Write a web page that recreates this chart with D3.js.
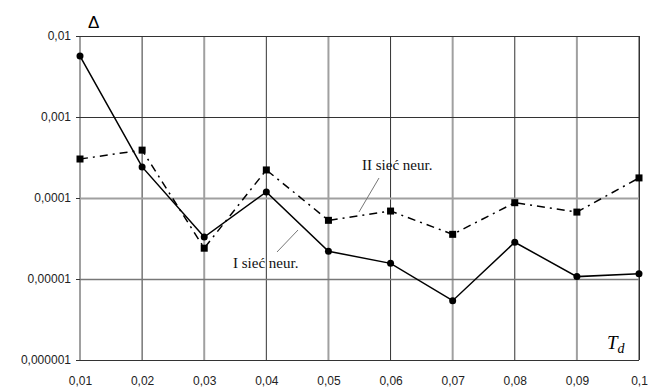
<!DOCTYPE html>
<html>
<head>
<meta charset="utf-8">
<script src="https://cdn.jsdelivr.net/npm/d3@7"></script>
<style>
  body { margin: 0; background: #fff; }
  svg { display: block; }
  .tick text { font-family: "Liberation Sans", Arial, sans-serif; font-size: 12px; fill: #222; }
  .lbl { font-family: "Liberation Serif", "Times New Roman", serif; font-size: 15px; fill: #111; }
</style>
</head>
<body>
<svg width="650" height="388"></svg>
<script>
// data
const td = [0.01, 0.02, 0.03, 0.04, 0.05, 0.06, 0.07, 0.08, 0.09, 0.1];
const net1 = [0.00566, 0.000242, 0.000033, 0.000119, 0.000022, 0.0000156, 0.0000054, 0.0000284, 0.0000107, 0.0000116];
const net2 = [0.000303, 0.00039, 0.000024, 0.000222, 0.000053, 0.000069, 0.0000356, 0.0000875, 0.000067, 0.000177];
const yTicks = [0.000001, 0.00001, 0.0001, 0.001, 0.01];

const svg = d3.select("svg");
const plotL = 80, plotR = 639, plotT = 36, plotB = 360;

const x = d3.scaleLinear().domain([0.01, 0.1]).range([plotL, plotR]);
const y = d3.scaleLog().domain([0.000001, 0.01]).range([plotB, plotT]);

const comma = d => String(d).replace(".", ",");

// vertical grid, alternating gray / dark
svg.append("g").selectAll("line")
  .data(td)
  .enter().append("line")
  .attr("x1", d => x(d)).attr("x2", d => x(d))
  .attr("y1", plotT).attr("y2", plotB)
  .attr("stroke", (d, i) => i % 2 === 0 ? "#a0a0a0" : "#333")
  .attr("stroke-width", (d, i) => i % 2 === 0 ? 2 : 1);

// horizontal grid
const hStyle = { 0.000001: ["#333", 1], 0.00001: ["#777", 1.5], 0.0001: ["#a0a0a0", 2], 0.001: ["#333", 1], 0.01: ["#333", 1] };
svg.append("g").selectAll("line")
  .data(yTicks)
  .enter().append("line")
  .attr("x1", plotL).attr("x2", plotR)
  .attr("y1", d => Math.round(y(d)) + 0.5).attr("y2", d => Math.round(y(d)) + 0.5)
  .attr("stroke", d => hStyle[d][0])
  .attr("stroke-width", d => hStyle[d][1]);

// right border
svg.append("line")
  .attr("x1", plotR + 0.5).attr("x2", plotR + 0.5)
  .attr("y1", plotT).attr("y2", plotB)
  .attr("stroke", "#333");

// axes
const yAxis = d3.axisLeft(y).tickValues(yTicks).tickFormat(comma).tickSize(4).tickPadding(5);
const gy = svg.append("g").attr("transform", `translate(${plotL},0)`).call(yAxis);
gy.select(".domain").remove();
gy.selectAll(".tick line").attr("stroke", "#333");

const xAxis = d3.axisBottom(x).tickValues(td).tickFormat(comma).tickSize(0).tickPadding(16);
const gx = svg.append("g").attr("transform", `translate(0,${plotB})`).call(xAxis);
gx.select(".domain").remove();

// series
const line = d3.line().x(d => x(d[0])).y(d => y(d[1]));
const s1 = d3.zip(td, net1);
const s2 = d3.zip(td, net2);

svg.append("path").datum(s2)
  .attr("d", line)
  .attr("fill", "none")
  .attr("stroke", "#000")
  .attr("stroke-width", 1.5)
  .attr("stroke-dasharray", "8,5,2,5");

svg.append("path").datum(s1)
  .attr("d", line)
  .attr("fill", "none")
  .attr("stroke", "#000")
  .attr("stroke-width", 1.5);

svg.append("g").selectAll("circle")
  .data(s1)
  .enter().append("circle")
  .attr("cx", d => x(d[0])).attr("cy", d => y(d[1]))
  .attr("r", 3.5)
  .attr("fill", "#000");

svg.append("g").selectAll("rect")
  .data(s2)
  .enter().append("rect")
  .attr("x", d => x(d[0]) - 3.5).attr("y", d => y(d[1]) - 3.5)
  .attr("width", 7).attr("height", 7)
  .attr("fill", "#000");

// series labels with leader lines
svg.append("text").attr("class", "lbl")
  .attr("x", 362).attr("y", 170).text("II sieć neur.");
svg.append("line")
  .attr("x1", 379).attr("y1", 178).attr("x2", 359).attr("y2", 212)
  .attr("stroke", "#777").attr("stroke-width", 1);

svg.append("text").attr("class", "lbl")
  .attr("x", 233).attr("y", 268).text("I sieć neur.");
svg.append("line")
  .attr("x1", 277).attr("y1", 252).attr("x2", 298).attr("y2", 230)
  .attr("stroke", "#777").attr("stroke-width", 1);

// axis titles
svg.append("text")
  .attr("x", 88).attr("y", 28)
  .style("font-family", "\"Liberation Sans\", Arial, sans-serif")
  .style("font-size", "17px")
  .text("Δ");

const tdText = svg.append("text")
  .attr("x", 607).attr("y", 349)
  .style("font-family", "\"Liberation Serif\", \"Times New Roman\", serif")
  .style("font-style", "italic")
  .style("font-size", "19px")
  .text("T");
tdText.append("tspan")
  .attr("dy", 4)
  .style("font-size", "14px")
  .text("d");
</script>
</body>
</html>
